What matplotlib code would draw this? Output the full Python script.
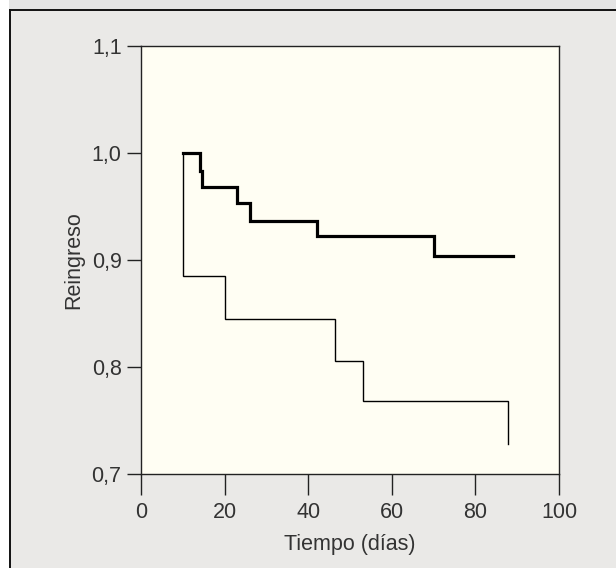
import matplotlib
matplotlib.use("Agg")
import matplotlib.pyplot as plt
from matplotlib.patches import Rectangle
from matplotlib.lines import Line2D

# Data (Kaplan-Meier style step curves)
t_thick = [10, 14, 14.6, 23, 26, 42, 70, 89]
s_thick = [1.0, 0.983, 0.968, 0.953, 0.936, 0.922, 0.904, 0.904]

t_thin = [10, 10, 20, 46.3, 53, 87.7, 87.7]
s_thin = [1.0, 0.885, 0.845, 0.806, 0.768, 0.768, 0.728]

xticks = [0, 20, 40, 60, 80, 100]
yticks = [0.7, 0.8, 0.9, 1.0, 1.1]
ytick_labels = ["0,7", "0,8", "0,9", "1,0", "1,1"]

plt.rcParams['font.family'] = ['Liberation Sans', 'DejaVu Sans']

W, H = 616, 568
fig = plt.figure(figsize=(W / 100, H / 100), dpi=100, facecolor='white')

# background panel and frame
fig.patches.append(Rectangle((9 / W, 0), 1, (H - 10) / H, transform=fig.transFigure,
                             facecolor='#eae9e7', edgecolor='none', zorder=-10))
fig.patches.append(Rectangle((9 / W, (H - 10) / H), 1, 10 / H, transform=fig.transFigure,
                             facecolor='#e4e4e4', edgecolor='none', zorder=-10))
fig.lines.append(Line2D([9.5 / W, 9.5 / W], [0, (H - 9.5) / H], transform=fig.transFigure,
                        color='#111111', lw=1.4, zorder=-5))
fig.lines.append(Line2D([9.5 / W, 1], [(H - 9.5) / H, (H - 9.5) / H], transform=fig.transFigure,
                        color='#111111', lw=1.4, zorder=-5))

ax = fig.add_axes([141 / W, (H - 474) / H, (559 - 141) / W, (474 - 46) / H])
ax.set_zorder(5)
ax.set_facecolor('#fffef3')

ax.step(t_thick, s_thick, where='post', color='black', lw=2.3, solid_joinstyle='miter')
ax.step(t_thin, s_thin, where='post', color='black', lw=1.0, solid_joinstyle='miter')

ax.set_xlim(0, 100)
ax.set_ylim(0.7, 1.1)
ax.set_xticks(xticks)
ax.set_xticklabels([str(v) for v in xticks])
ax.set_yticks(yticks)
ax.set_yticklabels(ytick_labels)

for s in ax.spines.values():
    s.set_color('#222222')
    s.set_linewidth(1.0)

ax.tick_params(axis='x', direction='out', length=15, width=1.0, color='#222222',
               labelsize=15.5, labelcolor='#333333', pad=5)
ax.tick_params(axis='y', direction='out', length=10, width=1.0, color='#222222',
               labelsize=15.5, labelcolor='#333333', pad=4)

ax.set_xlabel('Tiempo (días)', fontsize=15.5, color='#333333', labelpad=8)
ax.set_ylabel('Reingreso', fontsize=15.5, color='#333333', labelpad=5)

fig.savefig('out.png', dpi=100, facecolor=fig.get_facecolor())
